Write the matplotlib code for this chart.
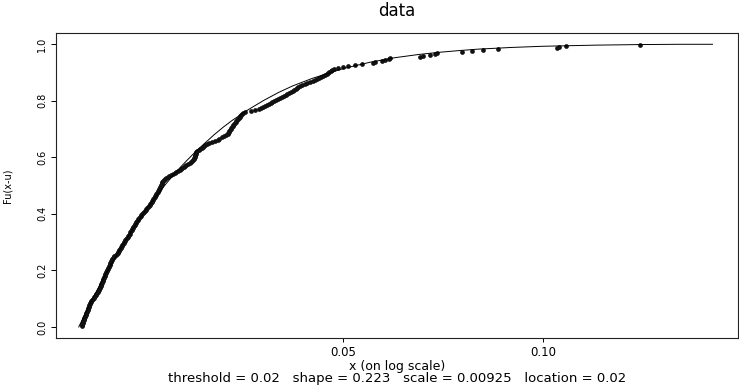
import numpy as np
import matplotlib
matplotlib.use("Agg")
import matplotlib.pyplot as plt
from matplotlib.ticker import NullLocator, FixedLocator, FixedFormatter

# excess data (sorted)
data_x = [
    0.02020, 0.02022, 0.02025, 0.02028, 0.02030, 0.02033, 0.02035, 0.02038, 0.02040, 0.02043,
    0.02046, 0.02049, 0.02051, 0.02054, 0.02056, 0.02059, 0.02062, 0.02064, 0.02067, 0.02069,
    0.02072, 0.02074, 0.02077, 0.02079,
    0.02085, 0.02090, 0.02095, 0.02101, 0.02106, 0.02111, 0.02116, 0.02122, 0.02127, 0.02132, 0.02137,
    0.02141, 0.02144, 0.02147, 0.02150, 0.02154, 0.02157, 0.02160, 0.02163, 0.02166, 0.02169,
    0.02172, 0.02175, 0.02178, 0.02181, 0.02184, 0.02187, 0.02190,
    0.02194, 0.02198, 0.02201, 0.02205, 0.02208, 0.02212, 0.02215, 0.02219, 0.02222, 0.02226,
    0.02229, 0.02232, 0.02236, 0.02239, 0.02243, 0.02246, 0.02250,
    0.02257, 0.02264, 0.02272, 0.02280, 0.02288,
    0.02293, 0.02298, 0.02303, 0.02308, 0.02313, 0.02317, 0.02322, 0.02327, 0.02332, 0.02337, 0.02342, 0.02346,
    0.02352, 0.02358, 0.02364, 0.02369, 0.02375, 0.02381, 0.02386, 0.02392, 0.02398, 0.02403,
    0.02408, 0.02413, 0.02418, 0.02423, 0.02428, 0.02433, 0.02438, 0.02443, 0.02448, 0.02454,
    0.02460, 0.02466, 0.02472, 0.02478, 0.02484, 0.02490, 0.02496,
    0.02506, 0.02513, 0.02521, 0.02529, 0.02536, 0.02544, 0.02551, 0.02558,
    0.02563, 0.02569, 0.02574, 0.02580, 0.02585, 0.02591, 0.02596, 0.02602, 0.02607, 0.02613,
    0.02618, 0.02624, 0.02629,
    0.02636, 0.02640, 0.02644, 0.02648, 0.02652, 0.02657, 0.02661, 0.02665, 0.02669, 0.02673, 0.02677,
    0.02688, 0.02700, 0.02711, 0.02725, 0.02738,
    0.02755, 0.02772, 0.02789, 0.02806, 0.02823,
    0.02838, 0.02851, 0.02864, 0.02878, 0.02891, 0.02905,
    0.02922, 0.02937, 0.02952, 0.02967,
    0.02976, 0.02980, 0.02984, 0.02988, 0.02992, 0.02996, 0.03000, 0.03004, 0.03008, 0.03012,
    0.03030,
    0.03050, 0.03063, 0.03076, 0.03089, 0.03102, 0.03115,
    0.03140, 0.03180, 0.03210, 0.03240, 0.03255, 0.03285, 0.03315, 0.03335,
    0.03350, 0.03357, 0.03364, 0.03370, 0.03376,
    0.03385, 0.03393, 0.03402, 0.03410, 0.03418, 0.03427, 0.03435,
    0.03445, 0.03455, 0.03465, 0.03475, 0.03484, 0.03494, 0.03504, 0.03514, 0.03523, 0.03532,
    0.03560, 0.03630, 0.03690,
    0.03730, 0.03757, 0.03783, 0.03810, 0.03836,
    0.03865, 0.03890, 0.03915, 0.03940, 0.03965, 0.03990, 0.04015,
    0.04040, 0.04068, 0.04096, 0.04124, 0.04152,
    0.04178, 0.04199, 0.04220, 0.04241, 0.04262, 0.04283, 0.04304,
    0.04340, 0.04380, 0.04420, 0.04460, 0.04500,
    0.04535, 0.04567, 0.04599, 0.04631, 0.04663, 0.04695, 0.04727,
    0.04745, 0.04765, 0.04790,
    0.0481, 0.0485, 0.0491, 0.0500, 0.0509, 0.0521, 0.0534, 0.0555, 0.0559, 0.0572,
    0.0578, 0.0586, 0.0589, 0.0653, 0.0660, 0.0676, 0.0688, 0.0693, 0.0755, 0.0782,
    0.0812, 0.0856, 0.1050, 0.1057, 0.1084, 0.1400,
]

# fitted GPD curve
fit_x = [0.0200, 0.0205, 0.0210, 0.0215, 0.0220, 0.0230, 0.0240, 0.0250, 0.0260, 0.0270,
         0.0280, 0.0290, 0.0300, 0.0320, 0.0330, 0.0340, 0.0360, 0.0380, 0.0400, 0.0420,
         0.0450, 0.0500, 0.0550, 0.0600, 0.0650, 0.0700, 0.0750, 0.0800, 0.0900, 0.1000,
         0.1200, 0.1400, 0.1600, 0.1800]
fit_y = [0.000, 0.052, 0.101, 0.147, 0.190, 0.269, 0.338, 0.400, 0.454, 0.503,
         0.547, 0.585, 0.620, 0.680, 0.706, 0.729, 0.768, 0.801, 0.829, 0.852,
         0.879, 0.913, 0.936, 0.952, 0.963, 0.971, 0.977, 0.982, 0.988, 0.992,
         0.996, 0.998, 0.999, 0.999]

x_ticks = [0.05, 0.10]
x_tick_labels = ["0.05", "0.10"]
y_ticks = [0.0, 0.2, 0.4, 0.6, 0.8, 1.0]
y_tick_labels = ["0.0", "0.2", "0.4", "0.6", "0.8", "1.0"]

subtitle = "threshold = 0.02   shape = 0.223   scale = 0.00925   location = 0.02"

# empirical distribution: plotting positions of the sorted data
n = len(data_x)
ecdf_y = (np.arange(1, n + 1) - 0.5) / n

W, H = 739, 385
fig = plt.figure(figsize=(W / 100, H / 100), dpi=100)
ax = fig.add_axes([56 / W, (H - 338) / H, 682 / W, 305 / H])

ax.plot(data_x, ecdf_y, "o", color="#111111", markersize=3.4, markeredgewidth=0)
ax.plot(fit_x, fit_y, color="black", linewidth=0.7)

ax.set_xscale("log")
ax.set_xlim(0.018484, 0.19665)
ax.set_ylim(-0.0389, 1.0389)

ax.xaxis.set_major_locator(FixedLocator(x_ticks))
ax.xaxis.set_major_formatter(FixedFormatter(x_tick_labels))
ax.xaxis.set_minor_locator(NullLocator())
ax.set_yticks(y_ticks)
ax.set_yticklabels(y_tick_labels, rotation=90, va="center")

ax.tick_params(axis="x", length=3.2, width=0.7, pad=2.5, labelsize=8.5)
ax.tick_params(axis="y", length=3.5, width=0.7, pad=3, labelsize=7)
for s in ax.spines.values():
    s.set_linewidth(0.8)
    s.set_color("#222222")

ax.set_title("data", fontsize=12, pad=0, y=1 + (33 - 11.5) / 305, va="center")
ax.set_xlabel("x (on log scale)", fontsize=9, va="center")
ax.xaxis.set_label_coords(0.5, -(366.5 - 338) / 305)
ax.set_ylabel("Fu(x-u)", fontsize=7, va="center")
ax.yaxis.set_label_coords((8 - 56) / 682, 0.5)
fig.text(397 / W, 1 - 378.5 / H, subtitle, fontsize=9.5, ha="center", va="center")

fig.savefig("out.png", dpi=100)
